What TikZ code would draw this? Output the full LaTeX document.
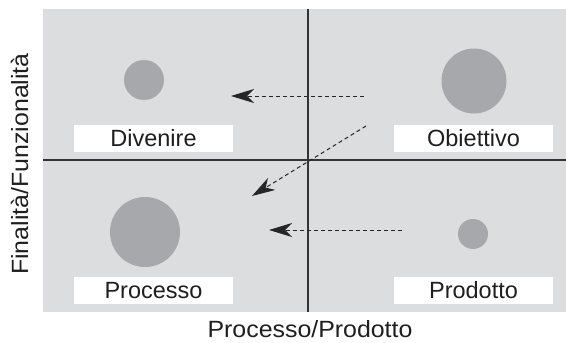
\documentclass[tikz,border=0pt]{standalone}
\usepackage{fontspec}
\setmainfont{Liberation Sans}
\newfontfamily\widefont[FakeStretch=1.06]{Liberation Sans}
\usetikzlibrary{arrows.meta}
\definecolor{bggray}{HTML}{DCDDDF}
\definecolor{dotgray}{HTML}{A7A8AB}
\definecolor{axisgray}{HTML}{333333}
\begin{document}
\begin{tikzpicture}[x=1pt,y=-1pt,
  labelbox/.style={fill=white, minimum width=159pt, minimum height=27pt, inner sep=0pt, font=\fontsize{23.5}{27}\selectfont, text=black!88},
  dot/.style={circle, fill=dotgray, inner sep=0pt},
  axis/.style={draw=axisgray, line width=1.4pt},
  move/.style={dashed, dash pattern=on 4pt off 3pt, line width=1pt, black!85, -{Stealth[length=23pt,width=14pt,inset=7pt]}},
  axislabel/.style={font=\widefont\fontsize{23.5}{27}\selectfont, text=black!88, inner sep=0pt}]
\useasboundingbox (0,0) rectangle (566,343);
\fill[bggray] (43,9) rectangle (566,312);
\coordinate (vt) at (308,9);
\coordinate (vb) at (308,312);
\coordinate (hl) at (43,160);
\coordinate (hr) at (566,160);
\draw[axis] (vt) -- (vb);
\draw[axis] (hl) -- (hr);
\node[dot, minimum size=40pt] (cdiv) at (144,80) {};
\node[dot, minimum size=65pt] (cobi) at (474,81) {};
\node[dot, minimum size=70pt] (cpro) at (145,232) {};
\node[dot, minimum size=30pt] (cprd) at (473,234) {};
\node[labelbox] (ldiv) at (153.5,138.5) {Divenire};
\node[labelbox] (lobi) at (473.5,138.5) {Obiettivo};
\node[labelbox] (lpro) at (153.5,290.5) {Processo};
\node[labelbox] (lprd) at (473.5,290.5) {Prodotto};
\coordinate (a1s) at (364,96);
\coordinate (a1e) at (231,96);
\coordinate (a2s) at (366,126);
\coordinate (a2e) at (252,196);
\coordinate (a3s) at (402,230);
\coordinate (a3e) at (269,230);
\draw[move] (a1s) -- (a1e);
\draw[move] (a2s) -- (a2e);
\draw[move] (a3s) -- (a3e);
\node[axislabel, anchor=base] (xlab) at (310,337.5) {Processo/Prodotto};
\node[axislabel, rotate=90, anchor=base] (ylab) at (28,164) {Finalità/Funzionalità};
\end{tikzpicture}
\end{document}
